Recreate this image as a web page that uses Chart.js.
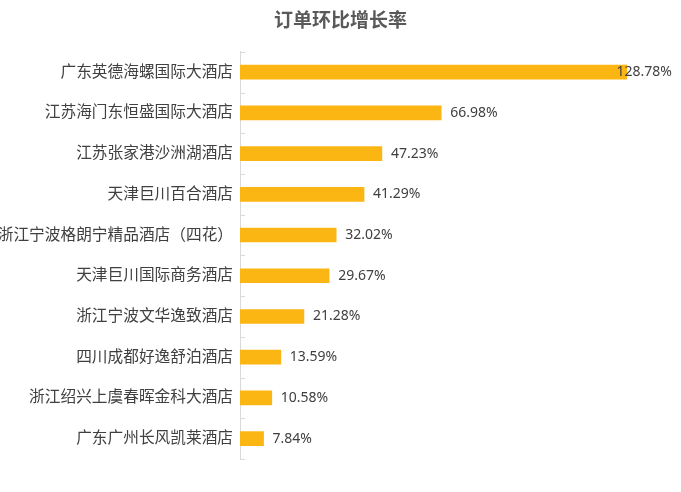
<!DOCTYPE html>
<html>
<head>
<meta charset="utf-8">
<script src="https://cdn.jsdelivr.net/npm/chart.js@4/dist/chart.umd.min.js"></script>
<style>
  html, body { margin: 0; padding: 0; background: #fff; }
  #wrap { width: 681px; height: 492px; }
</style>
</head>
<body>
<div id="wrap"><canvas id="myChart"></canvas></div>
<script>
// data
var hotels = [
    '广东英德海螺国际大酒店',
    '江苏海门东恒盛国际大酒店',
    '江苏张家港沙洲湖酒店',
    '天津巨川百合酒店',
    '浙江宁波格朗宁精品酒店（四花）',
    '天津巨川国际商务酒店',
    '浙江宁波文华逸致酒店',
    '四川成都好逸舒泊酒店',
    '浙江绍兴上虞春晖金科大酒店',
    '广东广州长风凯莱酒店'
];
var growth = [128.78, 66.98, 47.23, 41.29, 32.02, 29.67, 21.28, 13.59, 10.58, 7.84];

Chart.defaults.font.family = '"Noto Sans", "Noto Sans CJK SC", sans-serif';
Chart.defaults.color = '#404040';

// small ticks on the inner side of the category axis + value labels
var extras = {
    id: 'extras',
    afterDatasetsDraw: function (chart) {
        var ctx = chart.ctx;
        var y = chart.scales.y;
        var left = chart.chartArea.left;
        var n = hotels.length;
        ctx.save();
        ctx.strokeStyle = '#d9d9d9';
        ctx.lineWidth = 1;
        for (var i = 0; i <= n; i++) {
            var py = Math.round(y.top + i * (y.height / n)) + 0.5;
            ctx.beginPath();
            ctx.moveTo(left, py);
            ctx.lineTo(left + 5, py);
            ctx.stroke();
        }

        ctx.font = '14px "Noto Sans", sans-serif';
        ctx.fillStyle = '#404040';
        ctx.textBaseline = 'middle';
        ctx.textAlign = 'left';
        var meta = chart.getDatasetMeta(0);
        meta.data.forEach(function (bar, i) {
            var txt = growth[i].toFixed(2) + '%';
            var w = ctx.measureText(txt).width;
            var x = Math.min(bar.x + 9, chart.width - 9 - w);
            ctx.fillText(txt, x, bar.y);
        });
        ctx.restore();
    }
};

const ctx = document.getElementById('myChart').getContext('2d');
var myChart = new Chart(ctx, {
    type: 'bar',
    data: {
        labels: hotels,
        datasets: [{
            data: growth,
            backgroundColor: '#FCB614',
            barThickness: 14
        }]
    },
    options: {
        indexAxis: 'y',
        responsive: true,
        maintainAspectRatio: false,
        animation: false,
        layout: {
            padding: { left: 0, right: 0, top: 0, bottom: 33 }
        },
        plugins: {
            legend: { display: false },
            tooltip: { enabled: false },
            title: {
                display: true,
                text: '订单环比增长率',
                color: '#595959',
                font: { size: 19, weight: 'bold' },
                padding: { top: 10, bottom: 19 }
            }
        },
        scales: {
            x: {
                display: false,
                min: 0,
                max: 146.8   // leaves the empty room right of the longest bar
            },
            y: {
                afterFit: function (s) { s.width = 240; },
                grid: { display: true, drawOnChartArea: false, drawTicks: false },
                border: { color: '#d9d9d9' },
                ticks: {
                    padding: 7,
                    color: '#404040',
                    font: { size: 15.7 }
                }
            }
        }
    },
    plugins: [extras]
});
</script>
</body>
</html>
